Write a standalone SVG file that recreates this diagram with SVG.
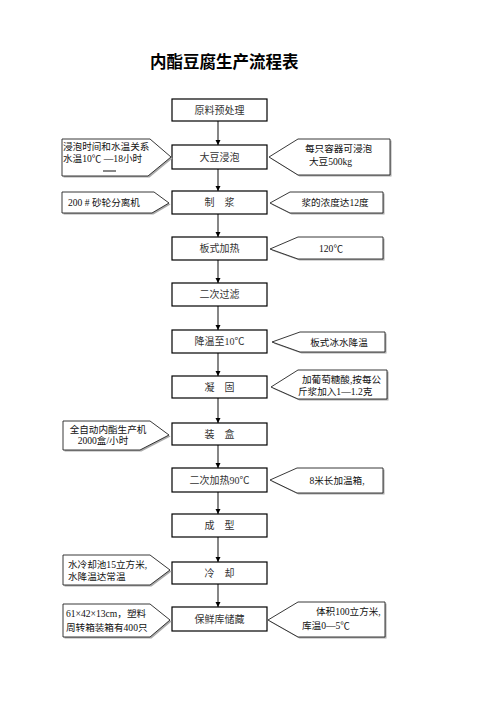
<svg xmlns="http://www.w3.org/2000/svg" width="496" height="702" viewBox="0 0 496 702">
<defs>
<style>
.box{fill:#fff;stroke:#000;stroke-width:1.2}
.co{fill:#fff;stroke:#222;stroke-width:0.9}
.sh{fill:#aaa;stroke:none}
.t{font-family:"Liberation Serif","Noto Sans CJK SC",serif;font-size:10px;fill:#333;text-anchor:middle}
.c{font-family:"Liberation Serif","Noto Sans CJK SC",serif;font-size:9.6px;fill:#111}
.ln{stroke:#222;stroke-width:1.1;fill:none}
</style>
<marker id="ah" markerWidth="5" markerHeight="6" refX="5" refY="3" orient="auto" markerUnits="userSpaceOnUse">
<path d="M0,0.5 L5,3 L0,5.5 Z" fill="#000"/>
</marker>
</defs>
<rect width="496" height="702" fill="#fff"/>
<text x="150" y="68" font-family="Liberation Serif, Noto Sans CJK SC, serif" font-size="16.5" font-weight="bold" fill="#000">内酯豆腐生产流程表</text>

<g id="connectors">
<line class="ln" x1="218" y1="121" x2="218" y2="145" marker-end="url(#ah)"/>
<line class="ln" x1="218" y1="169" x2="218" y2="191" marker-end="url(#ah)"/>
<line class="ln" x1="218" y1="214" x2="218" y2="237" marker-end="url(#ah)"/>
<line class="ln" x1="218" y1="260" x2="218" y2="283" marker-end="url(#ah)"/>
<line class="ln" x1="218" y1="306" x2="218" y2="330" marker-end="url(#ah)"/>
<line class="ln" x1="218" y1="353" x2="218" y2="376" marker-end="url(#ah)"/>
<line class="ln" x1="218" y1="398" x2="218" y2="423" marker-end="url(#ah)"/>
<line class="ln" x1="218" y1="445" x2="218" y2="468" marker-end="url(#ah)"/>
<line class="ln" x1="218" y1="492" x2="218" y2="514" marker-end="url(#ah)"/>
<line class="ln" x1="218" y1="537" x2="218" y2="562" marker-end="url(#ah)"/>
<line class="ln" x1="218" y1="584" x2="218" y2="607" marker-end="url(#ah)"/>
</g>

<g id="n1"><rect class="box" x="172" y="99" width="95" height="22"/><text class="t" x="219.5" y="114">原料预处理</text></g>
<g id="n2"><rect class="box" x="172" y="145" width="95" height="24"/><text class="t" x="219.5" y="161">大豆浸泡</text></g>
<g id="n3"><rect class="box" x="172" y="191" width="95" height="23"/><text class="t" x="219.5" y="206">制　浆</text></g>
<g id="n4"><rect class="box" x="172" y="237" width="95" height="23"/><text class="t" x="219.5" y="252">板式加热</text></g>
<g id="n5"><rect class="box" x="172" y="283" width="95" height="23"/><text class="t" x="219.5" y="298">二次过滤</text></g>
<g id="n6"><rect class="box" x="172" y="330" width="95" height="23"/><text class="t" x="219.5" y="345">降温至10℃</text></g>
<g id="n7"><rect class="box" x="172" y="376" width="95" height="22"/><text class="t" x="219.5" y="391">凝　固</text></g>
<g id="n8"><rect class="box" x="172" y="423" width="95" height="22"/><text class="t" x="219.5" y="438">装　盒</text></g>
<g id="n9"><rect class="box" x="172" y="468" width="95" height="24"/><text class="t" x="219.5" y="484">二次加热90℃</text></g>
<g id="n10"><rect class="box" x="172" y="514" width="95" height="23"/><text class="t" x="219.5" y="529">成　型</text></g>
<g id="n11"><rect class="box" x="172" y="562" width="95" height="22"/><text class="t" x="219.5" y="577">冷　却</text></g>
<g id="n12"><rect class="box" x="172" y="607" width="95" height="24"/><text class="t" x="219.5" y="623">保鲜库储藏</text></g>

<g id="cl1">
<polygon class="sh" points="63.5,140.5 151.5,140.5 172.5,158.5 149.5,177.5 63.5,177.5"/>
<polygon class="co" points="62,139 150,139 171,157 148,176 62,176"/>
<text class="c" x="63" y="150">浸泡时间和水温关系</text>
<text class="c" x="63" y="162">水温10℃ —18小时</text>
<line x1="103" y1="171" x2="116" y2="171" stroke="#111" stroke-width="1"/>
</g>
<g id="cl2">
<polygon class="sh" points="63.5,193.5 155.5,193.5 170.5,204.5 153.5,214.5 63.5,214.5"/>
<polygon class="co" points="62,192 154,192 169,203 152,213 62,213"/>
<text class="c" x="104" y="206" text-anchor="middle">200 # 砂轮分离机</text>
</g>
<g id="cl3">
<polygon class="sh" points="64.5,422.5 151.5,422.5 170.5,436.5 141.5,451.5 64.5,451.5"/>
<polygon class="co" points="63,421 150,421 169,435 140,450 63,450"/>
<text class="c" x="108" y="433" text-anchor="middle">全自动内酯生产机</text>
<text class="c" x="103" y="444" text-anchor="middle">2000盒/小时</text>
</g>
<g id="cl4">
<polygon class="sh" points="64.5,556.5 151.5,556.5 171.5,571.5 151.5,586.5 64.5,586.5"/>
<polygon class="co" points="63,555 150,555 170,570 150,585 63,585"/>
<text class="c" x="68" y="568">水冷却池15立方米,</text>
<text class="c" x="68" y="580">水降温达常温</text>
</g>
<g id="cl5">
<polygon class="sh" points="64.5,605.5 151.5,605.5 171.5,621.5 151.5,638.5 64.5,638.5"/>
<polygon class="co" points="63,604 150,604 170,620 150,637 63,637"/>
<text class="c" x="66" y="617">61×42×13cm，塑料</text>
<text class="c" x="66" y="631">周转箱装箱有400只</text>
</g>

<g id="cr1">
<polygon class="sh" points="270.5,158.5 299.5,140.5 391.5,140.5 391.5,176.5 299.5,176.5"/>
<polygon class="co" points="269,157 298,139 390,139 390,175 298,175"/>
<text class="c" x="305" y="152">每只容器可浸泡</text>
<text class="c" x="309" y="165">大豆500kg</text>
</g>
<g id="cr2">
<polygon class="sh" points="271.5,204.5 291.5,193.5 384.5,193.5 384.5,214.5 291.5,214.5"/>
<polygon class="co" points="270,203 290,192 383,192 383,213 290,213"/>
<text class="c" x="335" y="206" text-anchor="middle">浆的浓度达12度</text>
</g>
<g id="cr3">
<polygon class="sh" points="271.5,250.5 299.5,238.5 384.5,238.5 384.5,260.5 299.5,260.5"/>
<polygon class="co" points="270,249 298,237 383,237 383,259 298,259"/>
<text class="c" x="331" y="252" text-anchor="middle">120℃</text>
</g>
<g id="cr4">
<polygon class="sh" points="273.5,343.5 301.5,333.5 386.5,333.5 386.5,353.5 301.5,353.5"/>
<polygon class="co" points="272,342 300,332 385,332 385,352 300,352"/>
<text class="c" x="339" y="346" text-anchor="middle">板式冰水降温</text>
</g>
<g id="cr5">
<polygon class="sh" points="272.5,388.5 299.5,371.5 388.5,371.5 388.5,400.5 299.5,400.5"/>
<polygon class="co" points="271,387 298,370 387,370 387,399 298,399"/>
<text class="c" x="302" y="383">加葡萄糖酸,按每公</text>
<text class="c" x="298" y="395">斤浆加入1—1.2克</text>
</g>
<g id="cr6">
<polygon class="sh" points="271.5,481.5 298.5,469.5 384.5,469.5 384.5,494.5 298.5,494.5"/>
<polygon class="co" points="270,480 297,468 383,468 383,493 297,493"/>
<text class="c" x="337" y="484" text-anchor="middle">8米长加温箱,</text>
</g>
<g id="cr7">
<polygon class="sh" points="269.5,621.5 299.5,603.5 386.5,603.5 386.5,638.5 299.5,638.5"/>
<polygon class="co" points="268,620 298,602 385,602 385,637 298,637"/>
<text class="c" x="316" y="615">体积100立方米,</text>
<text class="c" x="302" y="629">库温0—5℃</text>
</g>
</svg>
